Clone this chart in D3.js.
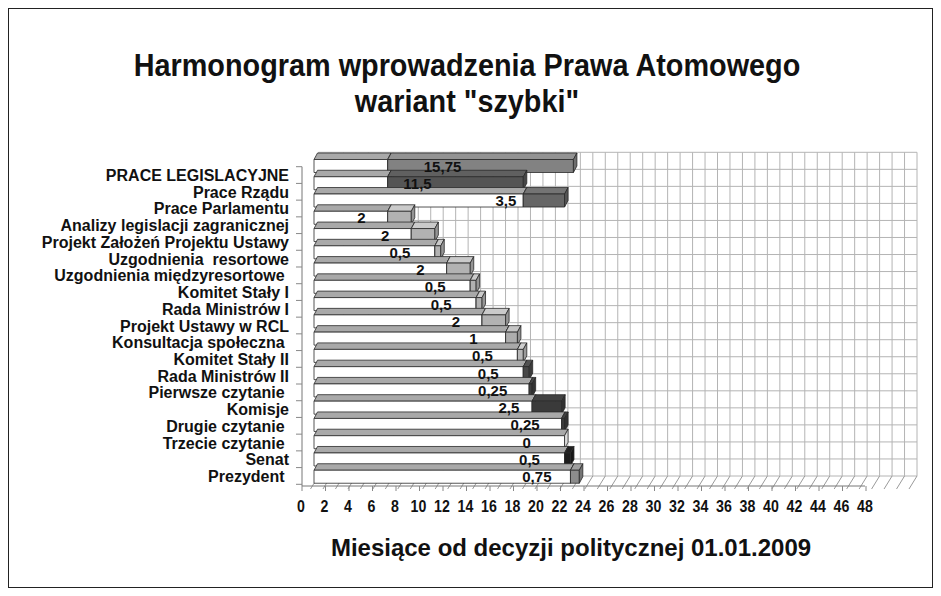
<!DOCTYPE html>
<html>
<head>
<meta charset="utf-8">
<script src="https://cdn.jsdelivr.net/npm/d3@7"></script>
<style>
	body { margin: 0; background: #fff; }
	text { font-family: "Liberation Sans", Arial, sans-serif; font-weight: bold; fill: #111; }
	.cat { white-space: pre; }
</style>
</head>
<body>
<div id="chart"></div>
<script>
'use strict';

const categories = ["PRACE LEGISLACYJNE", "Prace Rządu", "Prace Parlamentu", "Analizy legislacji zagranicznej",
	"Projekt Założeń Projektu Ustawy", "Uzgodnienia  resortowe", "Uzgodnienia międzyresortowe ",
	"Komitet Stały I", "Rada Ministrów I", "Projekt Ustawy w RCL", "Konsultacja społeczna ",
	"Komitet Stały II", "Rada Ministrów II", "Pierwsze czytanie ", "Komisje", "Drugie czytanie ",
	"Trzecie czytanie ", "Senat", "Prezydent "];

// months from the decision: where each task begins, and how long it lasts
const starts = [6.25, 6.25, 17.75, 6.25, 8.25, 10.25, 11.25, 13.25, 13.75, 14.25, 16.25, 17.25,
	17.75, 18.25, 18.5, 21, 21.25, 21.25, 21.75];
const durations = [15.75, 11.5, 3.5, 2, 2, 0.5, 2, 0.5, 0.5, 2, 1, 0.5, 0.5, 0.25, 2.5, 0.25, 0, 0.5, 0.75];

const tickValues = d3.range(0, 49, 2);

// grey shade of the duration part, row by row
const segColors = ["#828282", "#555555", "#666666", "#b2b2b2", "#b2b2b2", "#b2b2b2", "#b2b2b2", "#b2b2b2",
	"#b2b2b2", "#b2b2b2", "#adadad", "#b8b8b8", "#484848", "#3e3e3e", "#3a3a3a", "#3a3a3a", "#3a3a3a",
	"#1c1c1c", "#8c8c8c"];

const W = 941, H = 596;
const svg = d3.select("#chart").append("svg")
	.attr("width", W)
	.attr("height", H);

svg.append("rect")
	.attr("x", 8.5).attr("y", 8.5)
	.attr("width", 924).attr("height", 579)
	.attr("fill", "#fff")
	.attr("stroke", "#222");

// text squeezed like the scanned original
const label = (g, x, y, size, sx, txt) => g.append("text")
	.attr("transform", `translate(${x},${y}) scale(${sx},1)`)
	.attr("text-anchor", "middle")
	.style("font-size", size + "px")
	.text(txt);

// title
label(svg, 467, 76, 31, 0.93, "Harmonogram wprowadzenia Prawa Atomowego");
label(svg, 467, 112, 31, 0.93, "wariant \"szybki\"");

const xFront = d3.scaleLinear().domain([0, 48]).range([301, 865]);
const xBar = d3.scaleLinear().domain([0, 48]).range([314, 880]);
const xBack = d3.scaleLinear().domain([0, 48]).range([318.5, 917]);
const yBack = d3.scaleLinear().domain([0, categories.length]).range([152.3, 476]);
const yFront = d3.scaleBand().domain(categories).range([166.7, 484.3]);
const yBar = d3.scaleBand().domain(categories).range([156, 484]);
const floorFront = 486;

// back wall grid
const wall = svg.append("g").attr("stroke", "#b4b4b4").attr("stroke-width", 1);
wall.selectAll("line.v")
	.data(d3.range(0, 49))
	.enter()
	.append("line")
	.attr("x1", d => xBack(d)).attr("x2", d => xBack(d))
	.attr("y1", yBack(0)).attr("y2", yBack(categories.length));
wall.selectAll("line.h")
	.data(d3.range(0, categories.length + 1))
	.enter()
	.append("line")
	.attr("x1", xBack(0)).attr("x2", xBack(48))
	.attr("y1", d => yBack(d)).attr("y2", d => yBack(d));

// floor
const floor = svg.append("g").attr("stroke", "#9a9a9a").attr("stroke-width", 1);
floor.selectAll("line")
	.data(d3.range(0, 49))
	.enter()
	.append("line")
	.attr("x1", d => xBack(d)).attr("y1", yBack(categories.length))
	.attr("x2", d => xBack(d) - 8).attr("y2", floorFront + 3);

svg.append("line")
	.attr("x1", 302).attr("x2", xFront(48))
	.attr("y1", floorFront).attr("y2", floorFront)
	.attr("stroke", "#777");
svg.append("line")
	.attr("x1", 302).attr("x2", 302)
	.attr("y1", yFront.range()[0]).attr("y2", floorFront)
	.attr("stroke", "#777");

// left axis ticks at row boundaries
svg.append("g").attr("stroke", "#888")
	.selectAll("line")
	.data(d3.range(0, categories.length + 1))
	.enter()
	.append("line")
	.attr("x1", 296).attr("x2", 302)
	.attr("y1", d => yFront.range()[0] + d * yFront.step())
	.attr("y2", d => yFront.range()[0] + d * yFront.step());

// bottom ticks
svg.append("g").attr("stroke", "#888")
	.selectAll("line")
	.data(tickValues)
	.enter()
	.append("line")
	.attr("x1", d => xFront(d) + 1).attr("x2", d => xFront(d) + 1)
	.attr("y1", floorFront).attr("y2", floorFront + 5);

// 3d boxes
const dx = 3.5, dy = -6.5, faceH = 13;

const drawBox = (g, x0, x1, yT, front, top, side) => {
	const yB = yT + faceH;
	g.append("path")
		.attr("d", `M${x0},${yT}L${x0 + dx},${yT + dy}L${x1 + dx},${yT + dy}L${x1},${yT}Z`)
		.attr("fill", top);
	g.append("rect")
		.attr("x", x0).attr("y", yT)
		.attr("width", Math.max(0, x1 - x0)).attr("height", faceH)
		.attr("fill", front);
	g.append("path")
		.attr("d", `M${x1},${yT}L${x1 + dx},${yT + dy}L${x1 + dx},${yB + dy}L${x1},${yB}Z`)
		.attr("fill", side);
};

const bars = svg.append("g")
	.attr("stroke", "#2a2a2a")
	.attr("stroke-width", 0.8)
	.attr("stroke-linejoin", "round");

categories.forEach((c, i) => {
	const g = bars.append("g").classed("task", true);
	const yT = yBar(c) + 3.5;
	const base = d3.color(segColors[i]);
	drawBox(g, xBar(0), xBar(starts[i]), yT, "#ffffff", "#a9a9a9", "#dddddd");
	if (durations[i] > 0) {
		drawBox(g, xBar(starts[i]), xBar(starts[i] + durations[i]), yT,
			base.formatHex(), base.brighter(0.35).formatHex(), base.darker(0.5).formatHex());
	}
});

// duration labels
svg.append("g")
	.selectAll("text")
	.data(categories)
	.enter()
	.append("text")
	.attr("x", (d, i) => xBar(starts[i] + durations[i] / 2) - 38)
	.attr("y", d => yBar(d) + 3.5 + faceH / 2 + 5.5)
	.attr("text-anchor", "middle")
	.style("font-size", "15px")
	.text((d, i) => String(durations[i]).replace(".", ","));

// category labels
svg.append("g")
	.selectAll("text")
	.data(categories)
	.enter()
	.append("text")
	.classed("cat", true)
	.attr("x", 289)
	.attr("y", d => yFront(d) + yFront.bandwidth() / 2 + 6)
	.attr("text-anchor", "end")
	.style("font-size", "16px")
	.text(d => d);

// tick labels
const tickG = svg.append("g");
tickValues.forEach(v => label(tickG, xFront(v), 512, 16.5, 0.86, v));

label(svg, 571, 556, 24, 1, "Miesiące od decyzji politycznej 01.01.2009");
</script>
</body>
</html>
